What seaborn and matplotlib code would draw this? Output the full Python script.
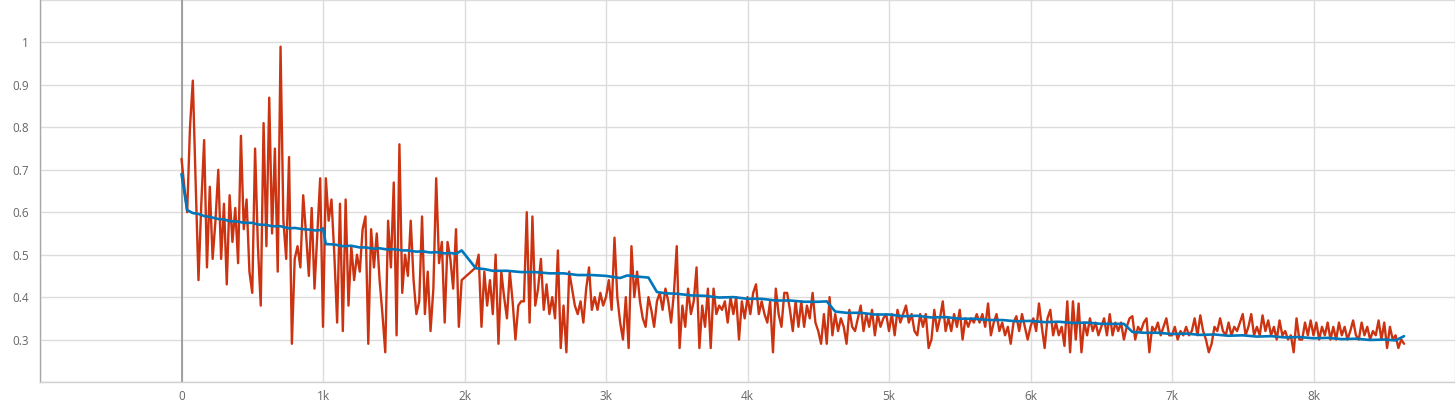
import numpy as np
import pandas as pd
import matplotlib
matplotlib.use("Agg")
import matplotlib.pyplot as plt
import seaborn as sns

# raw loss, logged every 20 steps (no points between 1980 and 2080)
red_steps = list(range(0, 2000, 20)) + list(range(2080, 8660, 20))
red_vals = [
    # 0 - 980
    .726, .66, .60, .80, .91, .67, .44, .62, .77, .47,
    .66, .49, .58, .70, .49, .62, .43, .64, .53, .61,
    .48, .78, .56, .63, .46, .41, .75, .52, .38, .81,
    .52, .87, .55, .75, .46, .99, .58, .49, .73, .29,
    .49, .52, .47, .64, .55, .45, .61, .42, .55, .68,
    # 1000 - 1980
    .33, .68, .58, .63, .50, .34, .62, .32, .63, .38,
    .52, .44, .50, .46, .56, .59, .29, .56, .47, .55,
    .44, .36, .27, .58, .47, .67, .31, .76, .41, .50,
    .45, .58, .44, .36, .39, .59, .36, .46, .32, .42,
    .68, .48, .53, .34, .53, .49, .42, .56, .33, .44,
    # 2080 - 2980
    .47, .50, .33, .46, .38, .44, .36, .50, .29, .46,
    .40, .35, .46, .39, .30, .38, .39, .39, .60, .34,
    .59, .38, .42, .49, .37, .43, .36, .40, .35, .51,
    .28, .38, .27, .46, .42, .38, .36, .39, .34, .42,
    .47, .37, .40, .37, .41, .38,
    # 3000 - 3980
    .40, .44, .37, .54, .40, .34, .30, .40, .28, .52,
    .40, .46, .39, .35, .33, .40, .37, .33, .39, .41,
    .37, .42, .39, .34, .41, .52, .28, .38, .33, .42,
    .36, .39, .47, .28, .38, .33, .42, .28, .42, .36,
    .38, .37, .39, .34, .40, .36, .40, .30, .39, .35,
    # 4000 - 4980
    .40, .36, .41, .43, .36, .39, .36, .34, .39, .27,
    .42, .36, .33, .41, .41, .37, .32, .39, .33, .39,
    .33, .38, .35, .41, .34, .32, .29, .36, .29, .40,
    .31, .36, .32, .35, .33, .29, .37, .33, .32, .35,
    .38, .32, .36, .33, .37, .31, .36, .33, .35, .36,
    # 5000 - 5980
    .32, .36, .31, .37, .34, .36, .38, .34, .36, .32,
    .31, .36, .33, .36, .28, .30, .37, .32, .35, .39,
    .32, .35, .32, .36, .33, .37, .30, .35, .33, .35,
    .34, .36, .34, .36, .33, .385, .31, .34, .36, .32,
    .34, .31, .33, .29, .34, .355, .32, .36, .33, .30,
    # 6000 - 6980
    .33, .35, .32, .385, .33, .28, .35, .37, .31, .34,
    .31, .33, .285, .39, .27, .39, .30, .385, .27, .34,
    .31, .35, .32, .34, .31, .33, .35, .31, .36, .31,
    .34, .32, .34, .30, .33, .35, .355, .30, .33, .32,
    .34, .35, .27, .33, .32, .34, .31, .33, .35, .31,
    # 7000 - 7980
    .31, .33, .30, .32, .31, .33, .31, .32, .35, .31,
    .357, .32, .30, .27, .29, .33, .32, .35, .32, .31,
    .34, .31, .33, .32, .34, .36, .31, .33, .36, .31,
    .33, .31, .357, .32, .345, .31, .33, .30, .345, .31,
    .32, .30, .31, .27, .35, .30, .30, .34, .31, .345,
    # 8000 - 8640
    .31, .34, .30, .33, .31, .34, .30, .33, .30, .34,
    .31, .33, .30, .32, .345, .31, .30, .34, .31, .33,
    .30, .32, .31, .345, .30, .34, .28, .33, .30, .31,
    .28, .30, .29,
]

# running average
blue_steps = [
    0, 40, 80, 120, 160, 200, 260, 300, 340, 400, 440, 500, 540, 600, 640,
    700, 760, 800, 860, 900, 950, 980, 1000, 1020, 1080, 1140, 1200, 1260,
    1300, 1360, 1400, 1460, 1500, 1560, 1600, 1660, 1700, 1760, 1800, 1860,
    1900, 1940, 1980, 2080, 2140, 2200, 2300, 2400, 2500, 2600, 2700, 2800,
    2900, 3000, 3100, 3150, 3200, 3300, 3360, 3420, 3500, 3600, 3700, 3800,
    3900, 4000, 4100, 4200, 4300, 4400, 4500, 4560, 4620, 4700, 4800, 4900,
    5000, 5100, 5200, 5300, 5400, 5500, 5600, 5700, 5800, 5900, 6000, 6100,
    6200, 6300, 6400, 6500, 6600, 6660, 6720, 6800, 6900, 7000, 7100, 7200,
    7300, 7400, 7500, 7600, 7700, 7800, 7900, 8000, 8100, 8200, 8300, 8400,
    8500, 8580, 8640,
]
blue_vals = [
    .690, .605, .598, .596, .591, .589, .584, .583, .579, .578, .575, .575,
    .571, .570, .567, .567, .562, .563, .560, .559, .557, .558, .562, .525,
    .524, .520, .521, .517, .517, .514, .515, .512, .513, .510, .510, .507,
    .508, .505, .506, .503, .504, .502, .510, .468, .466, .462, .462, .459,
    .459, .456, .456, .452, .452, .450, .445, .451, .449, .446, .412, .409,
    .408, .404, .403, .399, .400, .396, .396, .392, .392, .389, .389, .390,
    .366, .363, .363, .359, .359, .355, .356, .352, .353, .349, .349, .346,
    .346, .343, .344, .341, .342, .339, .340, .337, .337, .337, .318, .316,
    .316, .313, .314, .311, .312, .309, .310, .307, .308, .305, .306, .303,
    .304, .301, .302, .299, .300, .298, .308,
]

x_ticks = list(range(-1000, 10000, 1000))
x_labels = ['', '0', '1k', '2k', '3k', '4k', '5k', '6k', '7k', '8k', '']
y_ticks = [0.2, 0.3, 0.4, 0.5, 0.6, 0.7, 0.8, 0.9, 1.0, 1.1]
y_labels = ['', '0.3', '0.4', '0.5', '0.6', '0.7', '0.8', '0.9', '1', '']

red = pd.DataFrame({'step': red_steps, 'value': red_vals})
blue = pd.DataFrame({'step': blue_steps, 'value': blue_vals})

sns.set_theme(style='whitegrid')
plt.rcParams['font.family'] = ['Open Sans', 'DejaVu Sans']

fig = plt.figure(figsize=(14.55, 4.05), dpi=100)
ax = fig.add_axes([40 / 1455, 23 / 405, 1 - 40 / 1455, 1 - 23 / 405])

sns.lineplot(data=red, x='step', y='value', ax=ax, color='#cc3311',
             linewidth=1.7, estimator=None, sort=False, zorder=3)
sns.lineplot(data=blue, x='step', y='value', ax=ax, color='#0077bb',
             linewidth=1.9, estimator=None, sort=False, zorder=4)

ax.set_xlim(-1000, 9000)
ax.set_ylim(0.2, 1.1)
ax.set_xticks(x_ticks)
ax.set_xticklabels(x_labels)
ax.set_yticks(y_ticks)
ax.set_yticklabels(y_labels)
ax.set_xlabel('')
ax.set_ylabel('')

ax.grid(True, color='#dcdcdc', linewidth=1.0)
ax.axvline(0, color='#9a9a9a', linewidth=1.3, zorder=2)
for side in ['top', 'right']:
    ax.spines[side].set_visible(False)
ax.spines['left'].set_color('#a8a8a8')
ax.spines['left'].set_linewidth(1.0)
ax.spines['bottom'].set_color('#d0d0d0')
ax.spines['bottom'].set_linewidth(1.0)
ax.tick_params(axis='both', colors='#cccccc', labelcolor='#666666',
               labelsize=8.5, length=4, width=1, direction='out', pad=4)
ax.tick_params(axis='x', pad=1.5)
ax.set_facecolor('white')
fig.patch.set_facecolor('white')

fig.savefig('out.png', dpi=100)
